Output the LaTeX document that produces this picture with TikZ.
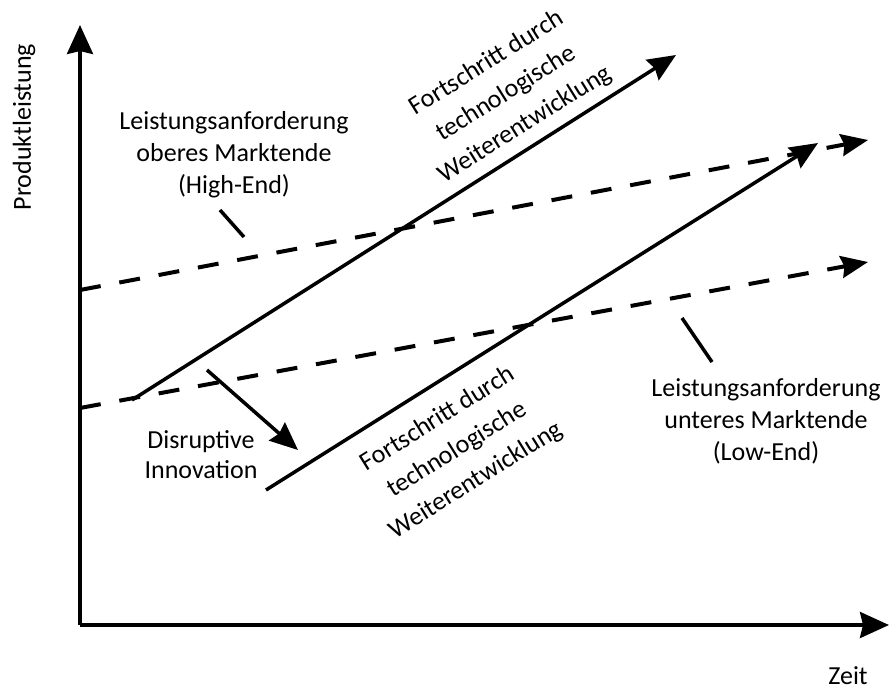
\documentclass[tikz,border=0pt]{standalone}
\usepackage{fontspec}
\setmainfont{Carlito}
\usetikzlibrary{arrows.meta}
\begin{document}
\begin{tikzpicture}[x=1pt,y=-1pt,
  axis/.style={line width=3.5pt,-{Stealth[length=29pt,width=26pt,inset=3pt]}},
  trend/.style={line width=3.5pt,-{Stealth[length=28pt,width=24pt,inset=3pt]}},
  demand/.style={line width=4pt,dash pattern=on 21pt off 19pt,-{Stealth[length=27pt,width=22pt,inset=3pt]}},
  lbl/.style={font=\fontsize{26}{32}\selectfont,align=center,inner sep=0pt},
  rlbl/.style={font=\fontsize{26}{36}\selectfont,align=center,inner sep=0pt,rotate=32},
  leader/.style={line width=3.5pt}]
\useasboundingbox (0,0) rectangle (889,691);
% axes
\coordinate (O) at (80,625);
\coordinate (Ytop) at (80,25);
\coordinate (Xend) at (889,625);
\draw[axis] (O) -- (Ytop);
\draw[axis] (O) -- (Xend);
\node[lbl,rotate=90] (ylab) at (24,127) {Produktleistung};
\node[lbl] (xlab) at (848,676) {Zeit};
% performance demand (dashed)
\coordinate (hs) at (80,290);
\coordinate (he) at (868,140);
\coordinate (ls) at (80,408);
\coordinate (le) at (868,262);
\draw[demand] (hs) -- (he);
\draw[demand] (ls) -- (le);
% technology trajectories
\coordinate (t1s) at (132,400);
\coordinate (t1e) at (676,55);
\coordinate (t2s) at (266,490);
\coordinate (t2e) at (818,143);
\draw[trend] (t1s) -- (t1e);
\draw[trend] (t2s) -- (t2e);
% disruptive step
\coordinate (ds) at (207,370);
\coordinate (de) at (298,450);
\draw[trend] (ds) -- (de);
% labels (base anchor = baseline of the last line)
\node[lbl,anchor=base] (high) at (234,193) {Leistungsanforderung\\oberes Marktende\\(High-End)};
\coordinate (hl1) at (220,210);
\coordinate (hl2) at (244,237);
\draw[leader] (hl1) -- (hl2);
\node[lbl,anchor=base] (low) at (766,460) {Leistungsanforderung\\unteres Marktende\\(Low-End)};
\coordinate (ll1) at (682,318);
\coordinate (ll2) at (712,362);
\draw[leader] (ll1) -- (ll2);
\node[lbl,anchor=base,font=\fontsize{26}{30}\selectfont] (disr) at (201,478) {Disruptive\\Innovation};
\node[rlbl] (fw1) at (506,94) {Fortschritt durch\\technologische\\Weiterentwicklung};
\node[rlbl] (fw2) at (457,450) {Fortschritt durch\\technologische\\Weiterentwicklung};
\end{tikzpicture}
\end{document}
